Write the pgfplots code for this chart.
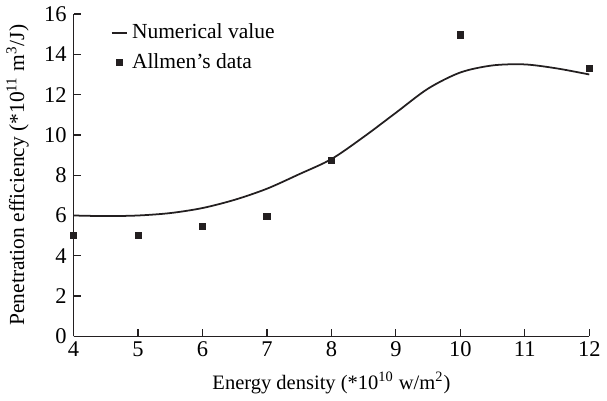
\documentclass[border=0pt]{standalone}
\usepackage{pgfplots}
\pgfplotsset{compat=1.18}
\usepackage{fontspec}
\setmainfont{Liberation Serif}
\definecolor{ink}{HTML}{231F20}
\begin{document}
\begin{tikzpicture}
\begin{axis}[
  scale only axis,
  width=264pt, height=165pt,
  xmin=4, xmax=12, ymin=0, ymax=16,
  xtick={4,5,...,12}, ytick={0,2,...,16},
  axis lines*=left,
  axis line style={ink, line width=0.6pt},
  tick style={ink, line width=0.6pt},
  tick align=inside,
  major tick length=4pt,
  /pgf/number format/assume math mode=true,
  tick label style={font=\fontsize{11.5}{13}\selectfont},
  xticklabel style={yshift=1pt},
  xlabel={Energy density (*10\textsuperscript{10} w/m\textsuperscript{2})},
  ylabel={Penetration efficiency (*10\textsuperscript{11} m\textsuperscript{3}/J)},
  xlabel style={font=\fontsize{10.5}{12}\selectfont, yshift=-1pt},
  ylabel style={font=\fontsize{11}{12}\selectfont, yshift=1pt},
  legend style={at={(0.06,0.995)}, anchor=north west, draw=none, fill=none,
    font=\fontsize{11}{13}\selectfont, row sep=2pt,
    /tikz/every even column/.append style={column sep=2pt}},
  legend cell align=left,
  clip=false,
]
\addplot[ink, line width=0.9pt, smooth, tension=0.5,
  legend image code/.code={\draw[ink, line width=0.9pt] (0cm,0cm) -- (0.28cm,0cm);}]
  coordinates {(4,6.0)(4.5,5.97)(5,6.0)(5.5,6.12)(6,6.37)(6.5,6.78)(7,7.33)
  (7.5,8.05)(8,8.8)(8.5,9.9)(9,11.1)(9.5,12.3)(10,13.1)(10.5,13.45)(11,13.5)
  (11.5,13.3)(12,13.0)};
\addlegendentry{Numerical value}
\addplot[only marks, mark=square*, mark size=1.6pt, ink, mark options={fill=ink},
  legend image code/.code={\draw[ink, fill=ink] (0.14cm,0cm) +(-1.6pt,-1.6pt) rectangle +(1.6pt,1.6pt);}]
  coordinates {(4,5.0)(5,5.0)(6,5.47)(7,5.97)(8,8.75)(10,14.97)(12,13.32)};
\addlegendentry{Allmen's data}
\end{axis}
\end{tikzpicture}
\end{document}
